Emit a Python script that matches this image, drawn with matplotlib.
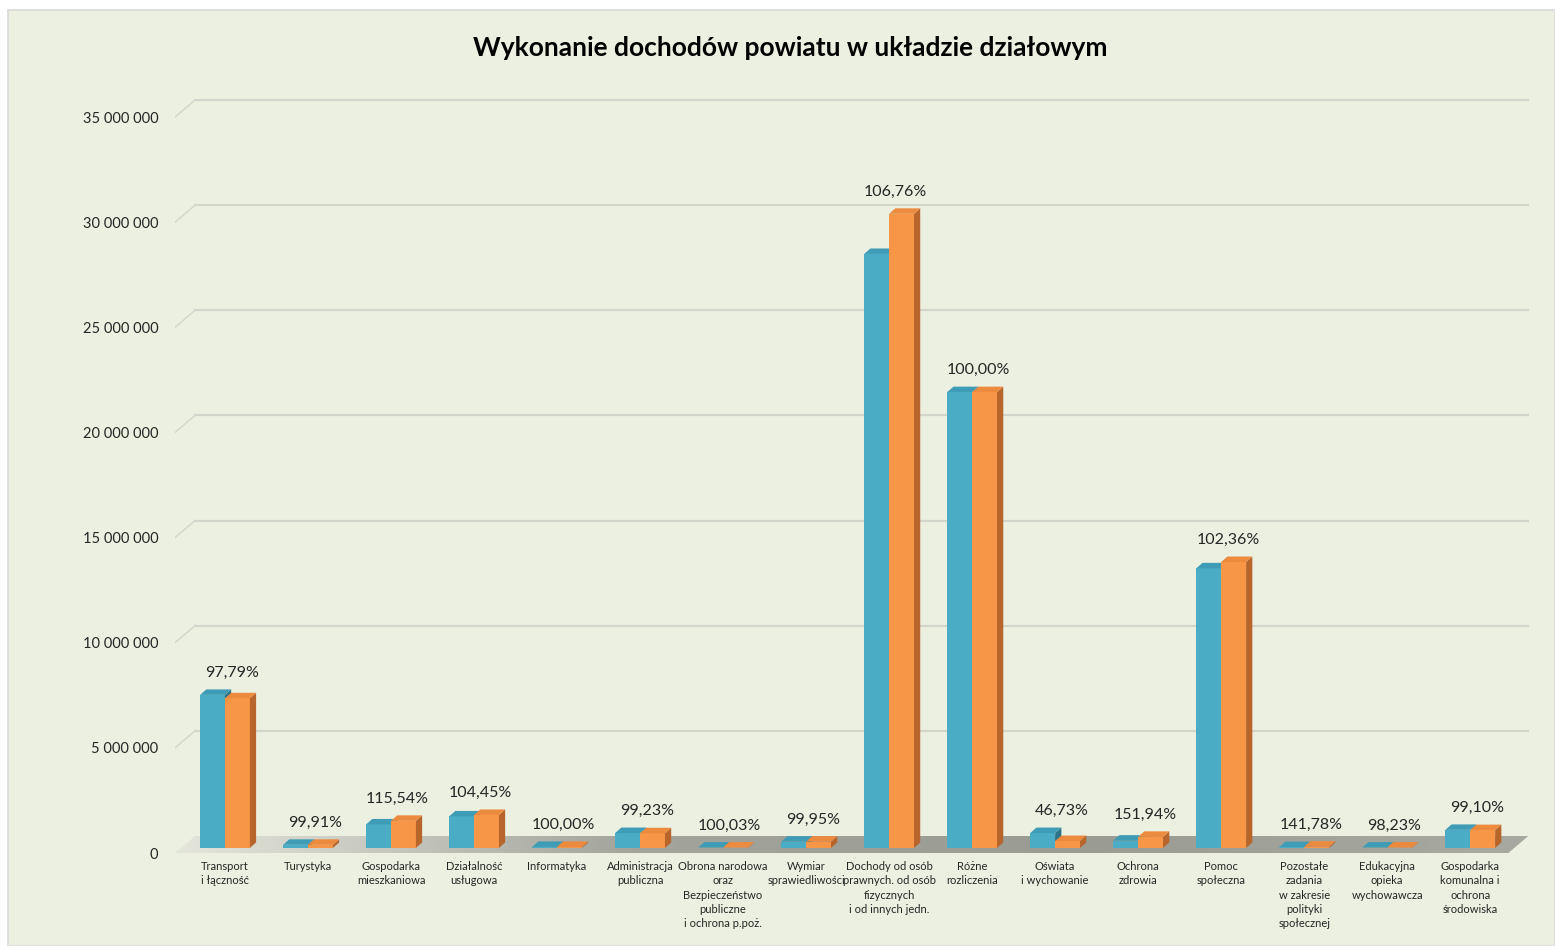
import numpy as np
import matplotlib
matplotlib.use("Agg")
import matplotlib.pyplot as plt
from matplotlib.patches import Polygon, Rectangle
from matplotlib.colors import LinearSegmentedColormap

plt.rcParams["font.family"] = ["Lato", "DejaVu Sans"]

TITLE = "Wykonanie dochodów powiatu w układzie działowym"

categories = [
    "Transport\ni łączność",
    "Turystyka",
    "Gospodarka\nmieszkaniowa",
    "Działalność\nusługowa",
    "Informatyka",
    "Administracja\npubliczna",
    "Obrona narodowa\noraz\nBezpieczeństwo\npubliczne\ni ochrona p.poż.",
    "Wymiar\nsprawiedliwości",
    "Dochody od osób\nprawnych. od osób\nfizycznych\ni od innych jedn.",
    "Różne\nrozliczenia",
    "Oświata\ni wychowanie",
    "Ochrona\nzdrowia",
    "Pomoc\nspołeczna",
    "Pozostałe\nzadania\nw zakresie\npolityki\nspołecznej",
    "Edukacyjna\nopieka\nwychowawcza",
    "Gospodarka\nkomunalna i\nochrona\nśrodowiska",
]

# plan (blue) i wykonanie (orange), w zł
plan = [7280000, 150000, 1120000, 1500000, 50000, 710000, 20000, 300000,
        28250000, 21680000, 710000, 350000, 13300000, 40000, 20000, 860000]
wykonanie = [7120000, 150000, 1290000, 1570000, 50000, 700000, 20000, 300000,
             30160000, 21680000, 330000, 530000, 13600000, 60000, 20000, 850000]
percent_labels = ["97,79%", "99,91%", "115,54%", "104,45%", "100,00%", "99,23%",
                  "100,03%", "99,95%", "106,76%", "100,00%", "46,73%", "151,94%",
                  "102,36%", "141,78%", "98,23%", "99,10%"]
yticks = [0, 5000000, 10000000, 15000000, 20000000, 25000000, 30000000, 35000000]

BG = "#EBF0E1"
BLUE = ("#4BACC6", "#3F9CB6", "#2C7489")     # front, top, side
ORANGE = ("#F79646", "#EC8A3E", "#B7652B")

fig = plt.figure(figsize=(15.55, 9.46), dpi=100, facecolor="white")
fig.patches.append(Rectangle((8 / 1555, 0), 1 - 8 / 1555, 1 - 10 / 946,
                             transform=fig.transFigure, facecolor=BG,
                             edgecolor="#D9D9D9", linewidth=1.2, zorder=-10))

ax = fig.add_axes([175 / 1555, 1 - 853 / 946, (1530 - 175) / 1555, (853 - 95) / 946])
ax.set_facecolor("none")
XMIN, XMAX = -0.602, 15.72
YMAX = 36.05e6
ax.set_xlim(XMIN, XMAX)
ax.set_ylim(0, YMAX)
for s in ax.spines.values():
    s.set_visible(False)

# depth of the back wall and of the bars (data units)
DX, DY = 0.241, 0.808e6
BAR_BASE = 0.24e6
bdx, bdy = 0.075, 0.26e6
w = 0.30

# back wall gridlines with diagonal ends
x_back_right = 15.70
for v in yticks[1:]:
    ax.plot([XMIN + DX, x_back_right], [v + DY, v + DY], color="#D3D5CC", lw=1.6, zorder=1)
    ax.plot([XMIN, XMIN + DX], [v, v + DY], color="#D3D5CC", lw=1.0, zorder=1)

# floor with gradient
floor = Polygon([(XMIN, 0), (x_back_right - DX, 0), (x_back_right, DY), (XMIN + DX, DY)],
                closed=True, facecolor="none", edgecolor="none")
ax.add_patch(floor)
cmap = LinearSegmentedColormap.from_list("floor", ["#E4E6DC", "#A3A49C", "#9A9B93", "#A8A9A1"])
grad = np.linspace(0, 1, 256).reshape(1, -1)
im = ax.imshow(grad, cmap=cmap, extent=[XMIN, x_back_right, 0, DY], aspect="auto",
               origin="lower", zorder=2)
im.set_clip_path(floor)
ax.set_xlim(XMIN, XMAX)
ax.set_ylim(0, YMAX)


def draw_bar(x0, v, colors):
    front, top, side = colors
    b = BAR_BASE
    ax.add_patch(Rectangle((x0, b), w, v, facecolor=front, edgecolor="none", zorder=3))
    ax.add_patch(Polygon([(x0 + w, b), (x0 + w + bdx, b + bdy), (x0 + w + bdx, b + v + bdy),
                          (x0 + w, b + v)], closed=True, facecolor=side, edgecolor="none", zorder=3))
    ax.add_patch(Polygon([(x0, b + v), (x0 + w, b + v), (x0 + w + bdx, b + v + bdy),
                          (x0 + bdx, b + v + bdy)], closed=True, facecolor=top, edgecolor="none", zorder=3))


for i in range(len(categories)):
    draw_bar(i - w, plan[i], BLUE)
    draw_bar(i, wykonanie[i], ORANGE)
    top = BAR_BASE + max(plan[i], wykonanie[i]) + bdy
    ax.annotate(percent_labels[i], (i + 0.08, top), xytext=(0, 12), textcoords="offset points",
                ha="center", va="center", fontsize=11.5, color="#262626", zorder=5)

ax.set_yticks(yticks)
ax.set_yticklabels(["{:,}".format(v).replace(",", " ") for v in yticks])
ax.set_xticks(range(len(categories)))
ax.set_xticklabels(categories, fontsize=8, linespacing=1.35, color="#262626")
ax.tick_params(axis="y", length=0, pad=12, labelsize=10.5, labelcolor="#262626")
ax.tick_params(axis="x", length=0, pad=6)

fig.text(790 / 1555, 1 - 48 / 946, TITLE, ha="center", va="center",
         fontsize=19, fontweight="bold", color="black")

fig.savefig("out.png", dpi=100, facecolor=fig.get_facecolor())
